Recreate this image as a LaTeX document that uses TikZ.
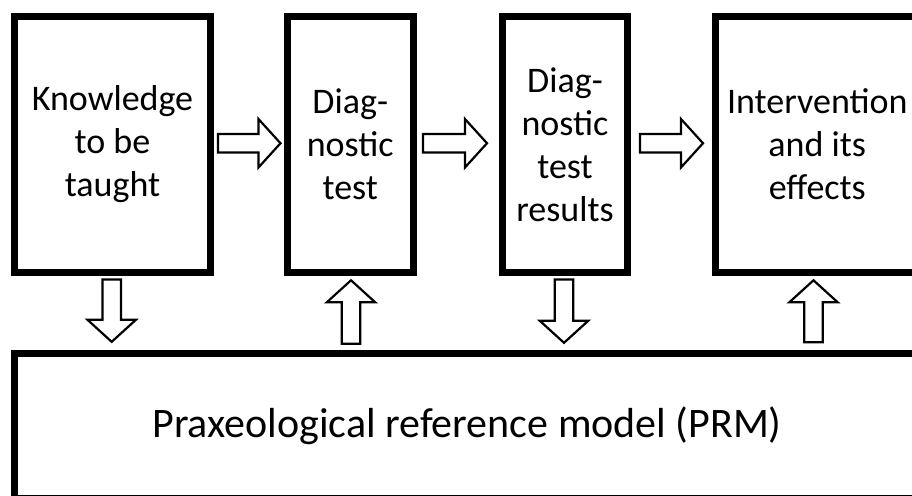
\documentclass[tikz,border=0pt]{standalone}
\usepackage{fontspec}
\setmainfont{Carlito}
\usetikzlibrary{calc}

% hollow block arrow from tail #1 to tip #2
\newcommand\shafthalf{9.3pt}
\newcommand\headhalf{24.2pt}
\newcommand\headlen{22pt}
\newcommand\blockarrow[2]{%
  \path ($(#2)!\headlen!(#1)$) coordinate (hb);
  \draw[blockarr]
    ($(#1)!\shafthalf!90:(#2)$) -- ($(hb)!\shafthalf!90:(#2)$) --
    ($(hb)!\headhalf!90:(#2)$) -- (#2) --
    ($(hb)!\headhalf!-90:(#2)$) -- ($(hb)!\shafthalf!-90:(#2)$) --
    ($(#1)!\shafthalf!-90:(#2)$) -- cycle;
}

\tikzset{
  box/.style={draw=black, line width=7pt, fill=white, rectangle,
    inner sep=0pt, align=center, font=\fontsize{36}{43}\selectfont},
  bigbox/.style={box, font=\fontsize{42}{50}\selectfont},
  blockarr/.style={draw=black, fill=white, line width=2.2pt, line join=miter},
}

\begin{document}
\begin{tikzpicture}[x=1pt, y=-1pt]
  \useasboundingbox (0,0) rectangle (912,495);
  \clip (0,0) rectangle (912,495);

  % top row of steps
  \node[box, minimum width=196pt, minimum height=255.5pt]
    (k) at (112.5,144.25) {Knowledge\\to be\\taught};
  \node[box, minimum width=125.5pt, minimum height=255.5pt]
    (dt) at (350.25,144.25) {Diag-\\nostic\\test};
  \node[box, minimum width=125pt, minimum height=255.5pt]
    (dr) at (565,144.25) {Diag-\\nostic\\test\\results};
  \node[box, minimum width=203.5pt, minimum height=255.5pt]
    (iv) at (817.25,144.25) {Intervention\\and its\\effects};

  % reference model underneath
  \node[bigbox, minimum width=906pt, minimum height=144.7pt]
    (prm) at (467,425.65) {Praxeological reference model (PRM)};

  % ends of the horizontal arrows
  \coordinate (a1t) at ($(k.east)+(4,-1)$);
  \coordinate (a1h) at ($(dt.west)+(-3.5,-1)$);
  \coordinate (a2t) at ($(dt.east)+(6.5,-1)$);
  \coordinate (a2h) at ($(dr.west)+(-12,-1)$);
  \coordinate (a3t) at ($(dr.east)+(9,-1)$);
  \coordinate (a3h) at ($(iv.west)+(-9,-1)$);

  % ends of the vertical arrows
  \coordinate (b1t) at ($(k.south)+(-0.8,4)$);
  \coordinate (b1h) at ($(k.south |- prm.north)+(-0.8,-8)$);
  \coordinate (b2t) at ($(dt.south |- prm.north)+(0.75,-6)$);
  \coordinate (b2h) at ($(dt.south)+(0.75,4.8)$);
  \coordinate (b3t) at ($(dr.south)+(-1,4)$);
  \coordinate (b3h) at ($(dr.south |- prm.north)+(-1,-7)$);
  \coordinate (b4t) at ($(iv.south |- prm.north)+(-3.75,-7.5)$);
  \coordinate (b4h) at ($(iv.south)+(-3.75,4.8)$);

  \blockarrow{a1t}{a1h}
  \blockarrow{a2t}{a2h}
  \blockarrow{a3t}{a3h}
  \blockarrow{b1t}{b1h}
  \blockarrow{b2t}{b2h}
  \blockarrow{b3t}{b3h}
  \blockarrow{b4t}{b4h}
\end{tikzpicture}
\end{document}
